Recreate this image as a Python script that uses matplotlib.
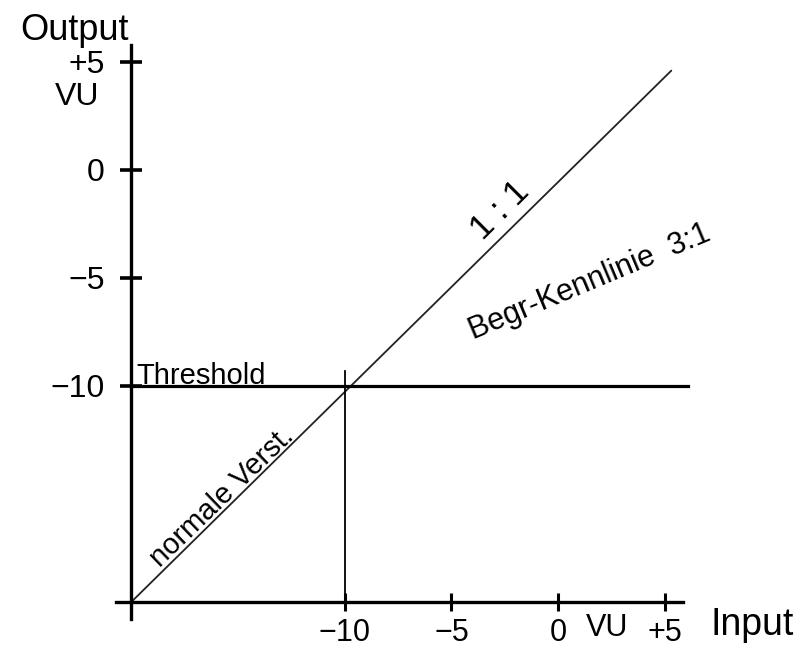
import numpy as np
import matplotlib
matplotlib.use("Agg")
import matplotlib.pyplot as plt

plt.rcParams["font.family"] = ["Liberation Sans", "DejaVu Sans"]

# Achsen / Ticks
x_ticks = [-10, -5, 0, 5]
x_tick_labels = ["−10", "−5", "0", "+5"]
y_ticks = [5, 0, -5, -10]
y_tick_labels = ["+5", "0", "−5", "−10"]

# Kennlinien
linie_x = [-20, 5.3]          # 1:1 (normale Verstaerkung)
linie_y = [-20, 4.6]
threshold = -10
threshold_x = [-20, 6.06]
senk_x = [-10, -10]
senk_y = [-20, -9.3]

fig = plt.figure(figsize=(8.09, 6.48), dpi=100)
ax = fig.add_axes([0, 0, 1, 1])
ax.set_xlim(-26.15, 11.75)
ax.set_ylim(-22.13, 7.87)

for s in ["top", "right"]:
    ax.spines[s].set_visible(False)
ax.spines["left"].set_position(("data", -20))
ax.spines["bottom"].set_position(("data", -20))
ax.spines["left"].set_bounds(-20.79, 5.79)
ax.spines["bottom"].set_bounds(-20.7, 5.87)
for s in ["left", "bottom"]:
    ax.spines[s].set_linewidth(2.4)
    ax.spines[s].set_color("black")

ax.set_xticks(x_ticks)
ax.set_xticklabels(x_tick_labels)
ax.set_yticks(y_ticks)
ax.set_yticklabels(y_tick_labels)
ax.tick_params(axis="x", direction="inout", length=13, width=2.2, pad=5, labelsize=22)
ax.tick_params(axis="y", direction="inout", length=16, width=2.6, pad=11, labelsize=23)

ax.plot(linie_x, linie_y, color="#222222", lw=1.3, solid_capstyle="round")
ax.plot(threshold_x, [threshold, threshold], color="black", lw=2.3)
ax.plot(senk_x, senk_y, color="black", lw=1.3)

ax.text(-22.68, 6.48, "Output", fontsize=26, ha="center", va="center")
ax.text(-22.54, 3.38, "VU", fontsize=23, ha="center", va="center")
ax.text(-19.77, -9.9, "Threshold", fontsize=21, ha="left", va="baseline")
ax.text(-2.72, -1.85, "1 : 1", fontsize=25, ha="center", va="center",
        rotation=45, rotation_mode="anchor")
ax.text(1.45, -5.2, "Begr-Kennlinie  3:1", fontsize=22, ha="center", va="center",
        rotation=22.7, rotation_mode="anchor")
ax.text(-15.73, -15.15, "normale Verst.", fontsize=21, ha="center", va="center",
        rotation=44, rotation_mode="anchor")
ax.text(2.3, -21.2, "VU", fontsize=22, ha="center", va="center")
ax.text(9.11, -21.06, "Input", fontsize=27, ha="center", va="center")

fig.savefig("out.png", dpi=100)
